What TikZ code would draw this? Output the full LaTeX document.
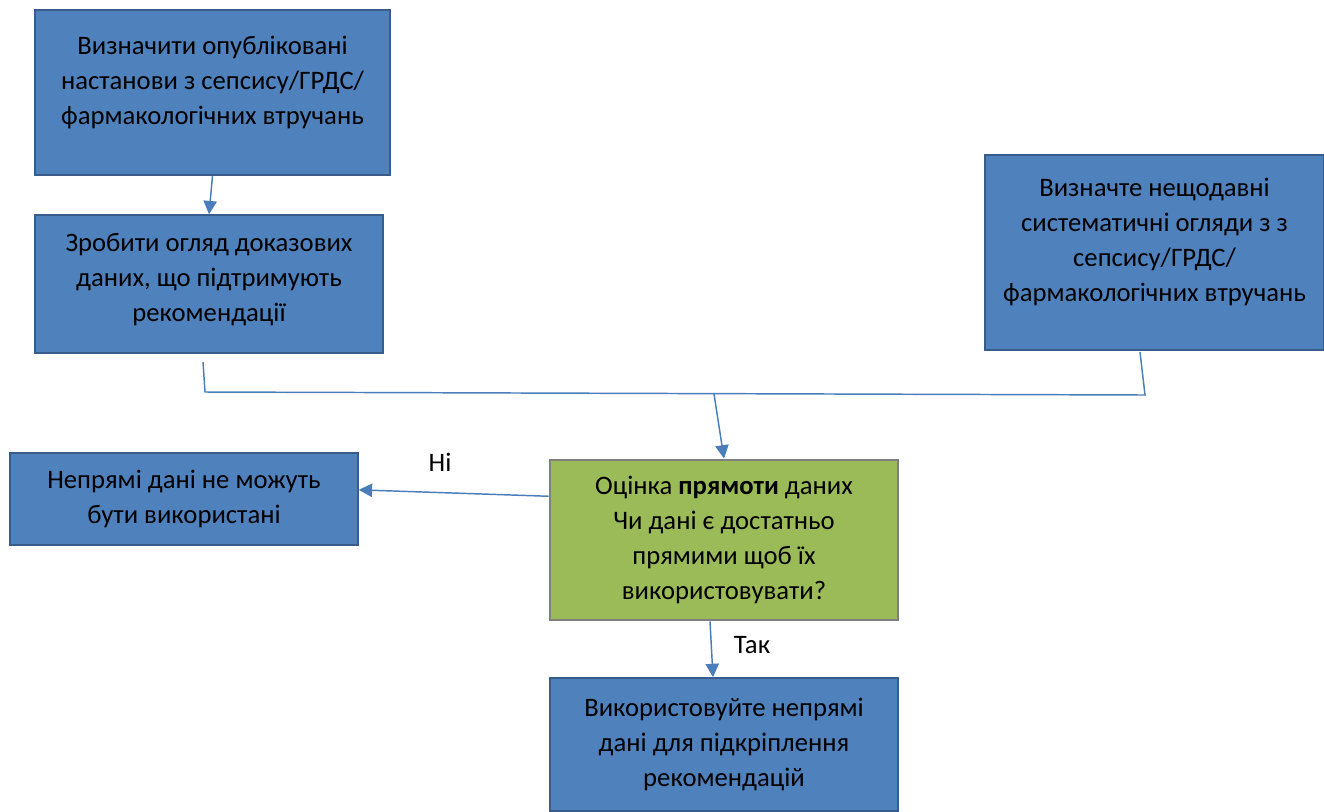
\documentclass[tikz,border=0pt]{standalone}
\usepackage{fontspec}
\setmainfont{Carlito}
\usetikzlibrary{arrows.meta,calc}

\definecolor{boxblue}{RGB}{79,129,189}
\definecolor{boxedge}{RGB}{56,93,138}
\definecolor{boxgreen}{RGB}{155,187,89}
\definecolor{greenedge}{RGB}{127,127,127}
\definecolor{linkblue}{RGB}{74,126,187}

\newcommand{\lift}[1]{\rule[-#1]{0pt}{#1}}

\tikzset{
  bluebox/.style={draw=boxedge,fill=boxblue,line width=1.1pt,align=center,inner sep=0pt,
    font=\fontsize{20}{26.2}\selectfont},
  greenbox/.style={draw=greenedge,fill=boxgreen,line width=2.2pt,align=center,inner sep=0pt,
    font=\fontsize{20}{26.2}\selectfont},
  link/.style={draw=linkblue,line width=1.1pt},
  arrowlink/.style={link,-{Triangle[length=10pt,width=10pt]}},
  answer/.style={font=\fontsize{20}{26.2}\selectfont,inner sep=0pt}
}

\begin{document}
\begin{tikzpicture}[x=0.75pt,y=0.75pt,yscale=-1,xscale=1]
\useasboundingbox (0,0) rectangle (1324,811);

\node[bluebox,minimum width=266pt,minimum height=124pt] (guides) at (212.5,92.5)
  {Визначити опубліковані\\настанови з сепсису/ГРДС/\\фармакологічних втручань\lift{18pt}};
\node[bluebox,minimum width=261pt,minimum height=103.5pt] (review) at (209,284)
  {Зробити огляд доказових\\даних, що підтримують\\рекомендації\lift{10.5pt}};
\node[bluebox,minimum width=254pt,minimum height=146pt] (sysrev) at (1154.5,252.5)
  {Визначте нещодавні\\систематичні огляди з з\\сепсису/ГРДС/\\фармакологічних втручань\lift{18.5pt}};
\node[bluebox,minimum width=261pt,minimum height=69pt] (notused) at (184,499)
  {Непрямі дані не можуть\\бути використані};
\node[greenbox,minimum width=261pt,minimum height=120pt] (assess) at (724,540)
  {Оцінка \textbf{прямоти} даних\\Чи дані є достатньо\\прямими щоб їх\\використовувати?};
\node[bluebox,minimum width=261pt,minimum height=100pt] (useit) at (724,744.5)
  {Використовуйте непрямі\\дані для підкріплення\\рекомендацій};

% joining line under the top boxes
\coordinate (leftfoot) at (203,362);
\coordinate (rightfoot) at (1140,352);
\coordinate (joinL) at (205,392);
\coordinate (joinR) at (1145,395);
\coordinate (joinM) at (714,394);

\draw[arrowlink] (guides.south) -- (review.north);
\draw[link] (leftfoot) -- (joinL) -- (joinR) -- (rightfoot);
\draw[arrowlink] (joinM) -- (assess.north);
\draw[arrowlink] (assess.166) -- (notused.3);
\draw[arrowlink] ($(assess.south)+(-14,0)$) -- ($(useit.north)+(-11,0)$);

\node[answer] (no) at (440,462) {Ні};
\node[answer] (yes) at (752,645) {Так};

\end{tikzpicture}
\end{document}
